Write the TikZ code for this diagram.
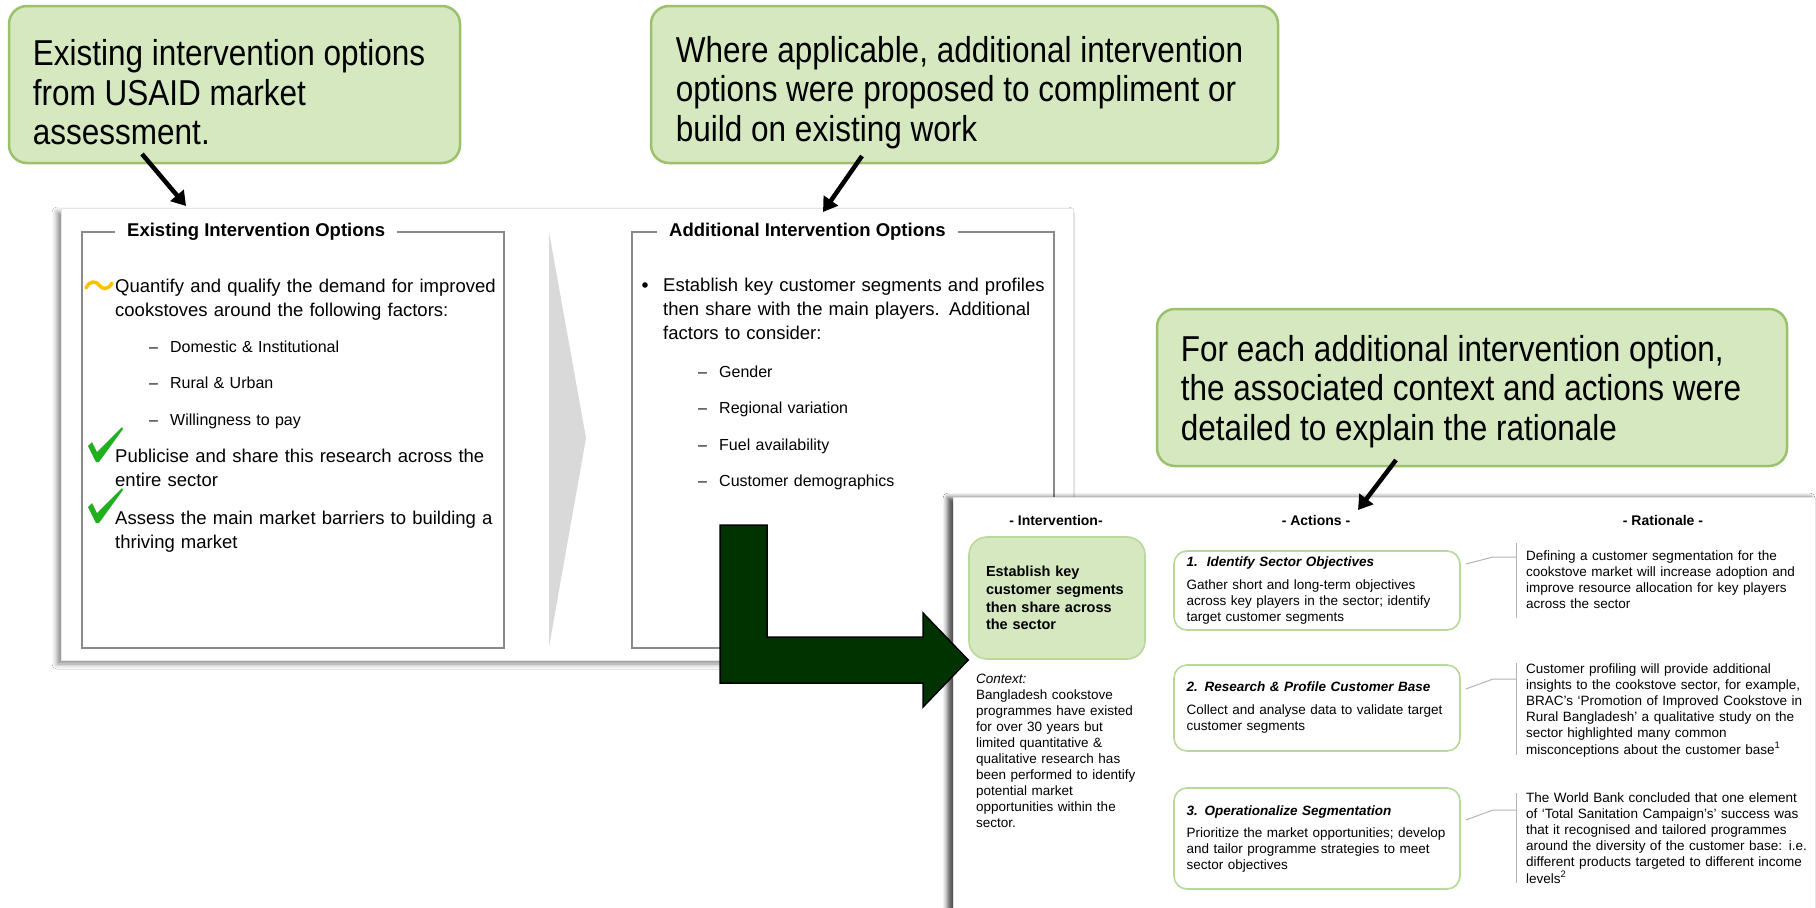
\documentclass[tikz,border=0pt]{standalone}
\usepackage{fontspec}
\setmainfont{Liberation Sans}
\newfontfamily\calloutfont{Liberation Sans}[FakeStretch=0.875]
\usetikzlibrary{arrows.meta,shadows.blur}

\definecolor{callfill}{HTML}{D6E8C0}
\definecolor{calldraw}{HTML}{9BC26A}
\definecolor{actdraw}{HTML}{B9D99A}
\definecolor{boxgray}{HTML}{8A8A8A}
\definecolor{chevgray}{HTML}{D9D9D9}
\definecolor{darkarrow}{HTML}{003300}
\definecolor{tickgreen}{HTML}{1FAF1F}
\definecolor{tildeorange}{HTML}{FFC000}
\definecolor{ratgray}{HTML}{B4B4B4}

\tikzset{
  callout/.style={draw=calldraw, line width=2.5pt, fill=callfill, rounded corners=18pt,
    minimum height=157pt},
  calltext/.style={anchor=west, inner sep=0pt, align=left,
    font=\calloutfont\fontsize{36}{39.5}\selectfont},
  callarrow/.style={line width=4.5pt, -{Triangle[width=17pt,length=14pt]}},
  card/.style={draw=gray!20, fill=white,
    blur shadow={shadow xshift=-4pt, shadow yshift=-4pt, shadow blur radius=5pt, shadow opacity=45}},
  optbox/.style={draw=boxgray, line width=1.3pt, minimum width=422pt, minimum height=416pt},
  opthead/.style={fill=white, inner xsep=12pt, inner ysep=2pt, anchor=west,
    font=\bfseries\fontsize{18.5}{22}\selectfont},
  bodytext/.style={inner sep=0pt, anchor=base west, text width=400pt, align=left,
    font=\fontsize{18.5}{24}\selectfont},
  dashlist/.style={inner sep=0pt, anchor=base west, text width=330pt, align=left,
    font=\fontsize{16}{36.5}\selectfont},
  colhead/.style={font=\bfseries\fontsize{14}{16}\selectfont},
  smalltext/.style={inner sep=0pt, anchor=base west, text width=290pt, align=left,
    font=\fontsize{13.5}{16.1}\selectfont},
  actbox/.style={draw=actdraw, line width=1.6pt, fill=white, rounded corners=13pt,
    minimum width=286pt, text width=261pt, inner xsep=12.5pt, align=left,
    font=\fontsize{13.5}{16}\selectfont},
  ratline/.style={draw=ratgray, line width=1pt},
  greentick/.pic={
    \fill[tickgreen] (0,19) -- (4,15) -- (9,25) -- (34,0) -- (35,2) -- (11,35) -- (8,35) -- cycle;
  }
}

\begin{document}
\begin{tikzpicture}[x=1pt, y=-1pt]
  \fill[white] (0,0) rectangle (1816,908);
  \useasboundingbox (0,0) rectangle (1816,908);

  % Callouts
  \node[callout, minimum width=451pt] (existcall) at (234.5,84.5) {};
  \node[calltext] (existtext) at ([xshift=25pt, yshift=-8pt]existcall.west)
    {Existing intervention options\\from USAID market\\assessment.};
  \node[callout, minimum width=627pt] (addcall) at (964.5,84.5) {};
  \node[calltext] (addtext) at ([xshift=26pt, yshift=-8pt]addcall.west)
    {Where applicable, additional intervention\\options were proposed to compliment or\\build on existing work};
  \node[callout, minimum width=630pt] (detailcall) at (1472,387.5) {};
  \node[calltext] (detailtext) at ([xshift=25pt, yshift=-4pt]detailcall.west)
    {For each additional intervention option,\\the associated context and actions were\\detailed to explain the rationale};

  % Intervention options card
  \node[card, minimum width=1012pt, minimum height=452pt] (optcard) at (567,434) {};
  \node[optbox] (existbox) at (293,440) {};
  \node[optbox] (addbox) at (843,440) {};
  \node[opthead] (existhead) at (115,232) {Existing Intervention Options};
  \node[opthead] (addhead) at (657,232) {Additional Intervention Options};
  \fill[chevgray] (549,232) -- (586,438) -- (549,647) -- cycle;

  % Existing options
  \draw[tildeorange, line width=3.5pt, line cap=round]
    (86,288) .. controls (90,280) and (96,281) .. (99,285) .. controls (103,290) and (108,290) .. (112,283);
  \node[bodytext] (quantify) at (115,292)
    {Quantify and qualify the demand for improved\\cookstoves around the following factors:};
  \node[dashlist] (factors) at (149,352)
    {\makebox[21pt][l]{--}Domestic \& Institutional\\
     \makebox[21pt][l]{--}Rural \& Urban\\
     \makebox[21pt][l]{--}Willingness to pay};
  \pic at (88,427) {greentick};
  \node[bodytext] (publicise) at (115,462)
    {Publicise and share this research across the\\entire sector};
  \pic at (88,488) {greentick};
  \node[bodytext] (assess) at (115,524)
    {Assess the main market barriers to building a\\thriving market};

  % Additional options
  \fill (645,285) circle (2.8pt);
  \node[bodytext] (establish) at (663,291)
    {Establish key customer segments and profiles\\then share with the main players. Additional\\factors to consider:};
  \node[dashlist] (extra) at (698,377)
    {\makebox[21pt][l]{--}Gender\\
     \makebox[21pt][l]{--}Regional variation\\
     \makebox[21pt][l]{--}Fuel availability\\
     \makebox[21pt][l]{--}Customer demographics};

  % Detail card
  \node[card, minimum width=862pt, minimum height=433pt,
    blur shadow={shadow xshift=-5pt, shadow yshift=-1pt}] (detailcard) at (1384,713.5) {};
  \node[colhead] (inthead) at (1056,520) {- Intervention-};
  \node[colhead] (acthead) at (1316,520) {- Actions -};
  \node[colhead] (rathead) at (1663,520) {- Rationale -};

  \node[draw=actdraw, line width=1.6pt, fill=callfill, rounded corners=18pt,
    minimum width=176pt, minimum height=122pt, text width=142pt, inner xsep=17pt, align=left,
    font=\bfseries\fontsize{14.5}{17.7}\selectfont] (intbox) at (1057,598)
    {Establish key\\customer segments\\then share across\\the sector};
  \node[smalltext] (context) at (976,683)
    {\textit{Context:}\\Bangladesh cookstove\\programmes have existed\\for over 30 years but\\limited quantitative \&\\qualitative research has\\been performed to identify\\potential market\\opportunities within the\\sector.};

  % Actions
  \node[actbox, minimum height=79pt] (act1) at (1317,590.5)
    {\textbf{\textit{1.\hspace{9pt}Identify Sector Objectives}}\\[7pt]
     Gather short and long-term objectives\\across key players in the sector; identify\\target customer segments};
  \node[actbox, minimum height=86pt] (act2) at (1317,708)
    {\textbf{\textit{2. Research \& Profile Customer Base}}\\[7pt]
     Collect and analyse data to validate target\\customer segments};
  \node[actbox, minimum height=101pt] (act3) at (1317,838.5)
    {\textbf{\textit{3. Operationalize Segmentation}}\\[6pt]
     Prioritize the market opportunities; develop\\and tailor programme strategies to meet\\sector objectives};

  % Rationale
  \node[smalltext] (rat1) at (1526,560.5)
    {Defining a customer segmentation for the\\cookstove market will increase adoption and\\improve resource allocation for key players\\across the sector};
  \node[smalltext] (rat2) at (1526,673.5)
    {Customer profiling will provide additional\\insights to the cookstove sector, for example,\\BRAC's `Promotion of Improved Cookstove in\\Rural Bangladesh' a qualitative study on the\\sector highlighted many common\\misconceptions about the customer base\textsuperscript{1}};
  \node[smalltext] (rat3) at (1526,802.5)
    {The World Bank concluded that one element\\of `Total Sanitation Campaign's' success was\\that it recognised and tailored programmes\\around the diversity of the customer base: i.e.\\different products targeted to different income\\levels\textsuperscript{2}};

  \coordinate (r1top) at (1516,543);
  \coordinate (r1bot) at (1516,618);
  \coordinate (r2top) at (1516,663);
  \coordinate (r2bot) at (1516,755);
  \coordinate (r3top) at (1516,793);
  \coordinate (r3bot) at (1516,883);
  \draw[ratline] (r1top) -- (r1bot);
  \draw[ratline] (r2top) -- (r2bot);
  \draw[ratline] (r3top) -- (r3bot);
  \draw[ratline] ([xshift=5pt]act1.east |- 0,564) -- (1493,557) -- (r1top |- 0,557);
  \draw[ratline] ([xshift=5pt]act2.east |- 0,689) -- (1493,679) -- (r2top |- 0,679);
  \draw[ratline] ([xshift=5pt]act3.east |- 0,820) -- (1493,810) -- (r3top |- 0,810);

  % Big arrow
  \filldraw[fill=darkarrow, draw=black, line width=1.5pt]
    (720,525) -- (767,525) -- (767,637) -- (923,637) -- (923,613) -- (intbox.west |- 0,660)
    -- (923,707) -- (923,683) -- (720,683) -- cycle;

  % Arrows
  \coordinate (existtail) at (142,154);
  \coordinate (existtip) at (186,206);
  \coordinate (addtail) at (862,156);
  \coordinate (addtip) at (823,212);
  \coordinate (detailtail) at (1396,460);
  \coordinate (detailtip) at (1358,510);
  \draw[callarrow] (existtail) -- (existtip);
  \draw[callarrow] (addtail) -- (addtip);
  \draw[callarrow] (detailtail) -- (detailtip);
\end{tikzpicture}
\end{document}
